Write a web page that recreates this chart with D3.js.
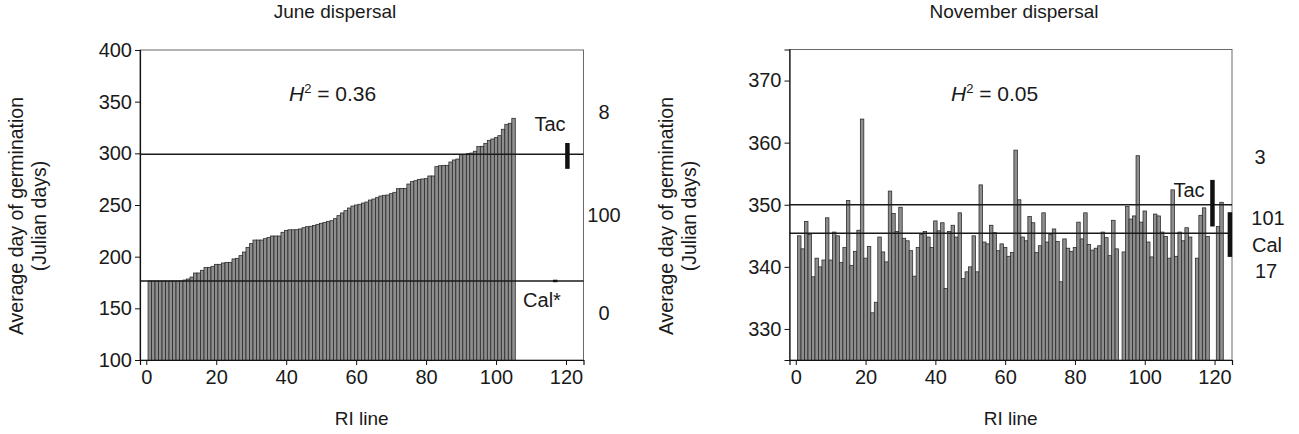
<!DOCTYPE html>
<meta charset="utf-8">
<head>
  <style>
    body { margin: 0; background: #ffffff; }
    text { font-family: "Liberation Sans", Arial, sans-serif; fill: #1a1a1a; }
  </style>
</head>
<body>
<script src="https://d3js.org/d3.v7.min.js"></script>
<script>

// mean germination day per RI line (index + 1 = line number)
const juneMeans = [
  176.5, 176.5, 176.5, 176.5, 176.5, 176.5, 176.5, 176.5, 176.5, 176.5,
  177.4, 178.4, 180.3, 184.2, 184.2, 186.8, 189.4, 189.4, 190.7, 192.6,
  192.6, 193.9, 194.5, 194.5, 197.8, 198.4, 201.0, 204.5, 209.0, 212.6,
  216.1, 216.1, 216.1, 217.4, 218.7, 220.0, 220.0, 220.0, 223.6, 225.5,
  226.0, 226.0, 226.1, 226.8, 228.0, 229.0, 229.4, 230.3, 231.3, 232.3,
  233.2, 234.2, 234.8, 236.8, 239.7, 242.3, 244.5, 247.1, 249.0, 250.0,
  250.7, 251.9, 252.9, 254.8, 255.8, 257.1, 258.7, 259.4, 259.7, 261.0,
  262.3, 265.8, 266.1, 266.1, 270.3, 272.6, 273.5, 274.8, 275.2, 275.5,
  278.1, 278.1, 287.1, 288.0, 288.4, 288.4, 291.6, 293.6, 294.5, 298.7,
  299.0, 299.7, 300.3, 302.0, 306.5, 306.8, 309.7, 312.6, 313.9, 315.2,
  317.1, 323.3, 328.1, 329.1, 333.9
];

const novemberMeans = [
  345.0, 342.9, 347.3, 345.2, 338.4, 341.4, 340.0, 341.1, 347.9, 341.1,
  345.6, 345.0, 340.7, 343.1, 350.7, 340.2, 342.5, 345.9, 363.8, 341.4,
  343.3, 332.6, 334.3, 344.8, 342.4, 340.8, 352.2, 348.6, 345.7, 349.6,
  344.6, 344.2, 342.6, 338.5, 343.1, 345.2, 345.7, 344.8, 343.1, 347.4,
  345.8, 347.1, 336.5, 345.7, 346.7, 344.8, 348.7, 338.1, 339.2, 340.0,
  345.0, 339.2, 353.2, 344.0, 343.7, 346.7, 345.5, 342.6, 343.7, 343.1,
  341.7, 342.3, 358.8, 350.8, 344.8, 344.2, 348.1, 347.1, 342.3, 343.4,
  348.7, 344.0, 345.2, 346.1, 344.1, 337.6, 344.5, 343.0, 342.5, 343.1,
  347.2, 344.5, 348.7, 343.6, 342.7, 343.0, 343.4, 345.6, 344.7, 341.8,
  347.5, 342.9, null,  342.4, 349.7, 347.7, 348.2, 357.9, 347.2, 349.0,
  344.0, 341.6, 348.5, 348.2, 345.6, 344.9, 341.4, 352.4, 341.7, 345.6,
  344.2, 346.3, 344.8, null,  341.4, 348.3, 349.5, 344.9, null,  null,
  346.5, 350.4
];

// parental lines: mean (horizontal line), range marker [low, high], marker position in line units
const juneParentNames = ["Tac", "Cal*"];
const juneParentMeans = [299.0, 176.5];
const juneParentRanges = [[285, 310], [175.3, 177.7]];
const juneParentAt = [120.4, 116.9];

const novParentNames = ["Tac", "Cal"];
const novParentMeans = [350.0, 345.4];
const novParentRanges = [[346.5, 354.0], [341.6, 348.8]];
const novParentAt = [119.4, 124.4];

const juneCounts = ["8", "100", "0"];
const novCounts = ["3", "101", "Cal", "17"];

const juneTicksY = [100, 150, 200, 250, 300, 350, 400];
const novTicksY = [330, 340, 350, 360, 370];
const ticksX = [0, 20, 40, 60, 80, 100, 120];

const W = 1299, H = 434;
const svg = d3.select("body").append("svg")
  .attr("width", W).attr("height", H);

function drawPanel(p) {
  const x = d3.scaleLinear().domain([-1.8, 125]).range([p.left, p.right]);
  const y = d3.scaleLinear().domain(p.yDomain).range([p.bottom, p.top]);
  const g = svg.append("g");
  const bw = x(1) - x(0);

  // frame (top/right)
  g.append("rect")
    .attr("x", p.left).attr("y", p.top)
    .attr("width", p.right - p.left).attr("height", p.bottom - p.top)
    .attr("fill", "none").attr("stroke", "#6a6a6a").attr("stroke-width", 1);

  // bars
  g.selectAll("rect.bar")
    .data(p.values.map((v, i) => ({line: i + 1, v: v})).filter(d => d.v != null))
    .enter().append("rect")
      .attr("class", "bar")
      .attr("x", d => x(d.line) - bw / 2)
      .attr("y", d => y(d.v))
      .attr("width", bw)
      .attr("height", d => y(p.yDomain[0]) - y(d.v))
      .attr("fill", "#8e8e8e")
      .attr("stroke", "#262626")
      .attr("stroke-width", 0.75);

  // parent means
  p.parentMeans.forEach(m => {
    g.append("line")
      .attr("x1", p.left).attr("x2", p.right)
      .attr("y1", y(m)).attr("y2", y(m))
      .attr("stroke", "#1a1a1a").attr("stroke-width", 1.5);
  });

  // parent ranges
  p.parentRanges.forEach((r, i) => {
    g.append("line")
      .attr("x1", x(p.parentAt[i])).attr("x2", x(p.parentAt[i]))
      .attr("y1", y(r[0])).attr("y2", y(r[1]))
      .attr("stroke", "#111").attr("stroke-width", 4.5);
  });

  // axes
  const ya = g.append("g")
    .attr("transform", "translate(" + p.left + ",0)")
    .call(d3.axisLeft(y).tickValues(p.ticksY).tickSize(5).tickPadding(3));
  const xa = g.append("g")
    .attr("transform", "translate(0," + p.bottom + ")")
    .call(d3.axisBottom(x).tickValues(ticksX).tickSize(5).tickPadding(5));
  [ya, xa].forEach(a => {
    a.select(".domain").attr("stroke", "#111").attr("stroke-width", 1.2);
    a.selectAll(".tick line").attr("stroke", "#111");
    a.selectAll("text").style("font-size", "20px")
      .style("font-family", "'Liberation Sans', Arial, sans-serif").attr("fill", "#1a1a1a");
  });

  // titles
  g.append("text").attr("x", p.titleX).attr("y", 18)
    .attr("text-anchor", "middle").style("font-size", "19px").text(p.title);
  g.append("text").attr("x", (p.left + p.right) / 2).attr("y", 425)
    .attr("text-anchor", "middle").style("font-size", "19px").text("RI line");
  const yl = g.append("text")
    .attr("transform", "translate(" + (p.left - 117) + ",216) rotate(-90)")
    .attr("text-anchor", "middle").style("font-size", "19.5px");
  yl.append("tspan").attr("x", 0).attr("dy", 0).text("Average day of germination");
  yl.append("tspan").attr("x", 0).attr("dy", 23).text("(Julian days)");

  // heritability
  const h2 = g.append("text").attr("x", p.h2X).attr("y", 101).style("font-size", "21px");
  h2.append("tspan").style("font-style", "italic").text("H");
  h2.append("tspan").attr("dy", -8).style("font-size", "13px").text("2");
  h2.append("tspan").attr("dy", 8).text(" = " + p.h2);

  // labels
  p.labels.forEach(l => {
    g.append("text").attr("x", l.x).attr("y", y(l.v))
      .attr("text-anchor", l.anchor || "middle").attr("dominant-baseline", "central")
      .style("font-size", "20px").text(l.t);
  });
}

drawPanel({
  left: 140, right: 583.5, top: 50, bottom: 360,
  yDomain: [100, 400], ticksY: juneTicksY,
  values: juneMeans,
  parentMeans: juneParentMeans, parentRanges: juneParentRanges, parentAt: juneParentAt,
  title: "June dispersal", titleX: 335, h2X: 289, h2: "0.36",
  labels: [
    {t: juneParentNames[0], x: 550, v: 328},
    {t: juneParentNames[1], x: 542, v: 158},
    {t: juneCounts[0], x: 604, v: 340},
    {t: juneCounts[1], x: 604, v: 240.3},
    {t: juneCounts[2], x: 604, v: 145.5}
  ]
});

drawPanel({
  left: 789.5, right: 1232, top: 49.5, bottom: 360,
  yDomain: [325, 375], ticksY: novTicksY,
  values: novemberMeans,
  parentMeans: novParentMeans, parentRanges: novParentRanges, parentAt: novParentAt,
  title: "November dispersal", titleX: 1014, h2X: 951, h2: "0.05",
  labels: [
    {t: novParentNames[0], x: 1189, v: 352.4},
    {t: novCounts[0], x: 1260, v: 357.7},
    {t: novCounts[1], x: 1268, v: 347.8},
    {t: novCounts[2], x: 1267, v: 343.5},
    {t: novCounts[3], x: 1266, v: 339.4}
  ]
});

</script>
</body>
</html>
